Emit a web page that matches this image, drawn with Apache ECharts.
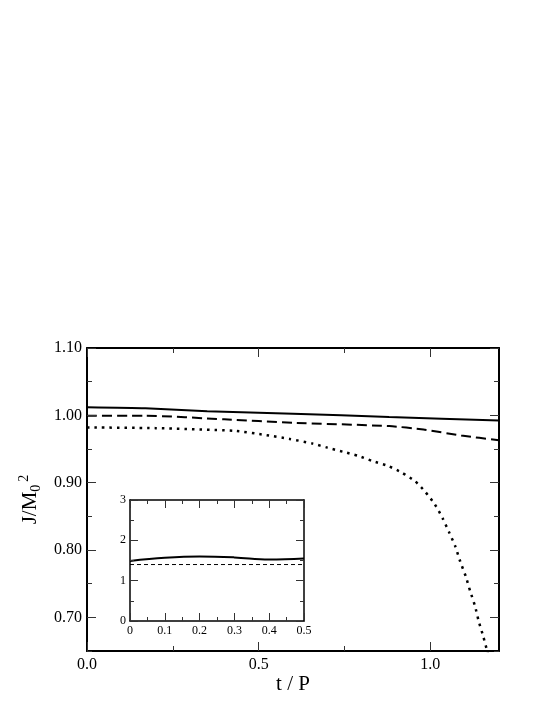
<!DOCTYPE html>
<html><head><meta charset="utf-8">
<script src="https://cdn.jsdelivr.net/npm/echarts@6/dist/echarts.min.js"></script>
<style>html,body{margin:0;padding:0;background:#fff}#c{width:554px;height:717px}</style>
</head><body><div id="c"></div>
<script>
// ---- main panel data ----
const solidT  = [0, 0.17, 0.35, 0.6, 0.88, 1.2];
const solidJ  = [1.012, 1.0105, 1.006, 1.0025, 0.9975, 0.9925];
const dashT   = [0, 0.17, 0.4, 0.6, 0.88, 0.98, 1.09, 1.2];
const dashJ   = [0.9995, 0.9995, 0.994, 0.989, 0.984, 0.979, 0.970, 0.963];
const dotT    = [0, 0.2, 0.43, 0.517, 0.59, 0.658, 0.70, 0.745, 0.789, 0.832, 0.876, 0.917, 0.956, 0.986, 1.013, 1.036, 1.055, 1.073, 1.087, 1.103, 1.116, 1.13, 1.141, 1.154, 1.165, 1.175];
const dotJ    = [0.982, 0.981, 0.977, 0.971, 0.965, 0.958, 0.952, 0.946, 0.940, 0.932, 0.925, 0.915, 0.902, 0.886, 0.868, 0.847, 0.826, 0.805, 0.783, 0.761, 0.739, 0.717, 0.694, 0.672, 0.651, 0.632];
// main ticks
const mainXMajor = [0, 0.5, 1.0];
const mainXMinor = [0.25, 0.75];
const mainYMajor = [0.7, 0.8, 0.9, 1.0, 1.1];
const mainYMinor = [0.65, 0.75, 0.85, 0.95, 1.05];
// ---- inset data ----
const insetT      = [0, 0.1, 0.2, 0.3, 0.4, 0.5];
const insetSolid  = [1.49, 1.567, 1.60, 1.577, 1.525, 1.55];
const insetDashT  = [0, 0.5];
const insetDash   = [1.40, 1.40];
const insetXMajor = [0, 0.1, 0.2, 0.3, 0.4, 0.5];
const insetXMinor = [0.05, 0.15, 0.25, 0.35, 0.45];
const insetYMajor = [0, 1, 2, 3];
const insetYMinor = [0.5, 1.5, 2.5];

const SERIF = 'Liberation Serif';
const xAxes = [], yAxes = [];

function addAxes(list, grid, positions, min, max, majors, minors, majLen, minLen, lineW, labelOpt, nameOpt) {
  const first = list.length;
  positions.forEach((pos, pi) => {
    [[majors, majLen, true], [minors, minLen, false]].forEach(([vals, len, isMaj]) => {
      const ax = {
        type: 'value', gridIndex: grid, position: pos, min: min, max: max, z: 20,
        axisLine: {show: isMaj, onZero: false, lineStyle: {color: '#000', width: lineW}},
        axisTick: {show: true, inside: true, length: len, customValues: vals, lineStyle: {color: '#333', width: 1}},
        axisLabel: {show: false},
        splitLine: {show: false}
      };
      if (pi === 0 && isMaj) {
        ax.axisLabel = Object.assign({show: true, customValues: vals}, labelOpt);
        if (nameOpt) Object.assign(ax, nameOpt);
      }
      list.push(ax);
    });
  });
  return first;
}

const mxi = addAxes(xAxes, 0, ['bottom', 'top'], 0, 1.2, mainXMajor, mainXMinor, 9, 5, 2,
  {fontFamily: SERIF, fontSize: 16, color: '#000', margin: 6, formatter: v => v.toFixed(1)},
  {name: 't / P', nameLocation: 'middle', nameGap: 22, nameTextStyle: {fontFamily: SERIF, fontSize: 21, color: '#000'}});
const myi = addAxes(yAxes, 0, ['left', 'right'], 0.65, 1.1, mainYMajor, mainYMinor, 9, 5, 2,
  {fontFamily: SERIF, fontSize: 16, color: '#000', margin: 5, formatter: v => v.toFixed(2)},
  {name: '{a|J/M}{b|0}{c|2}', nameLocation: 'middle', nameGap: 42,
   nameTextStyle: {rich: {
     a: {fontFamily: SERIF, fontSize: 21, color: '#000', lineHeight: 26, verticalAlign: 'middle'},
     b: {fontFamily: SERIF, fontSize: 14, color: '#000', lineHeight: 14, verticalAlign: 'bottom'},
     c: {fontFamily: SERIF, fontSize: 14, color: '#000', lineHeight: 14, verticalAlign: 'top', padding: [0, 0, 0, 3]}
   }}});
const ixi = addAxes(xAxes, 1, ['bottom', 'top'], 0, 0.5, insetXMajor, insetXMinor, 8, 4, 1.5,
  {fontFamily: SERIF, fontSize: 12, color: '#000', margin: 4, formatter: v => String(v)}, null);
const iyi = addAxes(yAxes, 1, ['left', 'right'], 0, 3, insetYMajor, insetYMinor, 8, 4, 1.5,
  {fontFamily: SERIF, fontSize: 12, color: '#000', margin: 4, formatter: v => String(v)}, null);

const zip = (a, b) => a.map((v, i) => [v, b[i]]);

const option = {
  animation: false,
  backgroundColor: '#fff',
  grid: [
    {left: 87, top: 348, width: 412, height: 303, show: false},
    {left: 130, top: 500, width: 174, height: 121, show: false}
  ],
  xAxis: xAxes,
  yAxis: yAxes,
  series: [
    {type: 'line', xAxisIndex: mxi, yAxisIndex: myi, data: zip(solidT, solidJ), showSymbol: false, smooth: 0.2,
     lineStyle: {color: '#000', width: 2}},
    {type: 'line', xAxisIndex: mxi, yAxisIndex: myi, data: zip(dashT, dashJ), showSymbol: false, smooth: 0.2,
     lineStyle: {color: '#000', width: 2, type: [10, 5]}},
    {type: 'line', xAxisIndex: mxi, yAxisIndex: myi, data: zip(dotT, dotJ), showSymbol: false, smooth: 0.2,
     lineStyle: {color: '#000', width: 2.5, type: [2.5, 5]}},
    {type: 'line', xAxisIndex: ixi, yAxisIndex: iyi, data: zip(insetT, insetSolid), showSymbol: false, smooth: 0.4, z: 10,
     lineStyle: {color: '#000', width: 2}},
    {type: 'line', xAxisIndex: ixi, yAxisIndex: iyi, data: zip(insetDashT, insetDash), showSymbol: false, z: 10,
     lineStyle: {color: '#000', width: 1, type: [4, 3]}}
  ]
};
const chart = echarts.init(document.getElementById('c'), null, {renderer: 'canvas'});
chart.setOption(option);
</script></body></html>
